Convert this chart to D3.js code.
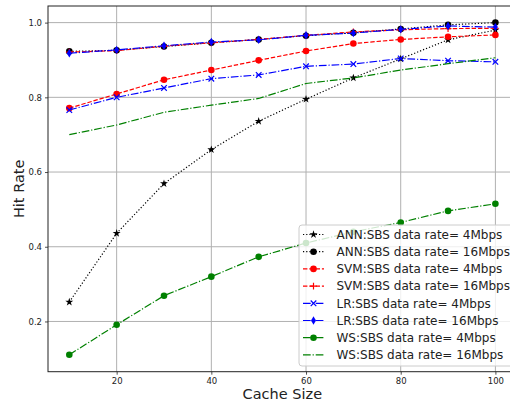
<!DOCTYPE html>
<html>
<head>
<meta charset="utf-8">
<script src="https://cdn.jsdelivr.net/npm/d3@7"></script>
<style>
  body { margin: 0; background: #fff; }
  svg { display: block; font-family: "DejaVu Sans", sans-serif; }
</style>
</head>
<body>
<div id="chart"></div>
<script>
// data
const cacheSizes = [10, 20, 30, 40, 50, 60, 70, 80, 90, 100];
const ann4 = [0.252, 0.436, 0.569, 0.660, 0.736, 0.795, 0.852, 0.903, 0.954, 0.980];
const ann16 = [0.923, 0.926, 0.936, 0.946, 0.955, 0.965, 0.973, 0.983, 0.994, 1.000];
const svm4 = [0.771, 0.809, 0.847, 0.873, 0.899, 0.924, 0.944, 0.955, 0.962, 0.967];
const svm16 = [0.921, 0.925, 0.937, 0.946, 0.955, 0.966, 0.975, 0.981, 0.984, 0.985];
const lr4 = [0.766, 0.800, 0.825, 0.850, 0.860, 0.883, 0.889, 0.904, 0.898, 0.895];
const lr16 = [0.918, 0.927, 0.938, 0.948, 0.954, 0.966, 0.972, 0.982, 0.991, 0.988];
const ws4 = [0.111, 0.191, 0.269, 0.320, 0.373, 0.410, 0.440, 0.465, 0.496, 0.515];
const ws16 = [0.700, 0.726, 0.760, 0.779, 0.797, 0.837, 0.852, 0.873, 0.890, 0.906];
const xTicks = [20, 40, 60, 80, 100];
const yTicks = [0.2, 0.4, 0.6, 0.8, 1.0];

const series = [
    {name: 'ANN:SBS data rate= 4Mbps', values: ann4, color: '#000', dash: '1.2,2', marker: 'star'},
    {name: 'ANN:SBS data rate= 16Mbps', values: ann16, color: '#000', dash: '1.2,2', marker: 'circle'},
    {name: 'SVM:SBS data rate= 4Mbps', values: svm4, color: '#ff0000', dash: '4.4,1.9', marker: 'circle'},
    {name: 'SVM:SBS data rate= 16Mbps', values: svm16, color: '#ff0000', dash: '4.4,1.9', marker: 'plus'},
    {name: 'LR:SBS data rate= 4Mbps', values: lr4, color: '#0000ff', dash: '7.7,1.9,1.2,1.9', marker: 'x'},
    {name: 'LR:SBS data rate= 16Mbps', values: lr16, color: '#0000ff', dash: '7.7,1.9,1.2,1.9', marker: 'thin_diamond'},
    {name: 'WS:SBS data rate= 4Mbps', values: ws4, color: '#008000', dash: '7.7,1.9,1.2,1.9', marker: 'circle'},
    {name: 'WS:SBS data rate= 16Mbps', values: ws16, color: '#008000', dash: '7.7,1.9,1.2,1.9', marker: null},
];

const width = 510, height = 407;
const plot = {left: 48, top: 6, right: 516.7, bottom: 371.7};

const svg = d3.select('#chart').append('svg')
    .attr('width', width)
    .attr('height', height);

const x = d3.scaleLinear().domain([5.5, 104.5]).range([plot.left, plot.right]);
const y = d3.scaleLinear().domain([0.0655, 1.0445]).range([plot.bottom, plot.top]);

// grid
svg.append('g').selectAll('line').data(xTicks).join('line')
    .attr('x1', (d) => x(d)).attr('x2', (d) => x(d))
    .attr('y1', plot.top).attr('y2', plot.bottom)
    .attr('stroke', '#b0b0b0').attr('stroke-width', 1);
svg.append('g').selectAll('line').data(yTicks).join('line')
    .attr('x1', plot.left).attr('x2', plot.right)
    .attr('y1', (d) => y(d)).attr('y2', (d) => y(d))
    .attr('stroke', '#b0b0b0').attr('stroke-width', 1);

// axes
const xAxis = d3.axisBottom(x).tickValues(xTicks).tickFormat(d3.format('d')).tickSizeOuter(0).tickSize(3).tickPadding(3);
const yAxis = d3.axisLeft(y).tickValues(yTicks).tickFormat(d3.format('.1f')).tickSizeOuter(0).tickSize(3).tickPadding(3);

const gx = svg.append('g').attr('transform', `translate(0,${plot.bottom})`).call(xAxis);
const gy = svg.append('g').attr('transform', `translate(${plot.left},0)`).call(yAxis);
[gx, gy].forEach((g) => {
    g.select('.domain').remove();
    g.selectAll('text').attr('font-size', 8.5).attr('fill', '#222').attr('font-family', '"DejaVu Sans", sans-serif');
    g.selectAll('line').attr('stroke', '#222').attr('stroke-width', 0.8);
});

// frame
svg.append('rect')
    .attr('x', plot.left).attr('y', plot.top)
    .attr('width', plot.right - plot.left).attr('height', plot.bottom - plot.top)
    .attr('fill', 'none').attr('stroke', '#222').attr('stroke-width', 1);

const line = d3.line()
    .x((d, i) => x(cacheSizes[i]))
    .y((d) => y(d));

function drawMarker(g, type, cx, cy, color) {
    if (type === 'circle') {
        g.append('circle').attr('cx', cx).attr('cy', cy).attr('r', 3.3).attr('fill', color);
    } else if (type === 'star') {
        g.append('path').attr('transform', `translate(${cx},${cy})`)
            .attr('d', d3.symbol(d3.symbolStar, 20)()).attr('fill', color);
    } else if (type === 'plus') {
        g.append('path').attr('transform', `translate(${cx},${cy})`)
            .attr('d', 'M-3.4,0H3.4M0,-3.4V3.4').attr('stroke', color).attr('stroke-width', 1.2);
    } else if (type === 'x') {
        g.append('path').attr('transform', `translate(${cx},${cy})`)
            .attr('d', 'M-2.8,-2.8L2.8,2.8M-2.8,2.8L2.8,-2.8').attr('stroke', color).attr('stroke-width', 1.2);
    } else if (type === 'thin_diamond') {
        g.append('path').attr('transform', `translate(${cx},${cy})`)
            .attr('d', 'M0,-4.2L2.5,0L0,4.2L-2.5,0Z').attr('fill', color);
    }
}

const plotG = svg.append('g');

series.forEach((s) => {
    const g = plotG.append('g');
    g.append('path')
        .attr('d', line(s.values))
        .attr('fill', 'none')
        .attr('stroke', s.color)
        .attr('stroke-width', 1.2)
        .attr('stroke-dasharray', s.dash);
    if (s.marker) {
        s.values.forEach((v, i) => drawMarker(g, s.marker, x(cacheSizes[i]), y(v), s.color));
    }
});

// legend
const leg = svg.append('g').attr('transform', 'translate(299,225)');
leg.append('rect')
    .attr('x', 0).attr('y', 0).attr('width', 230).attr('height', 141)
    .attr('rx', 3)
    .attr('fill', 'rgba(255,255,255,0.8)')
    .attr('stroke', '#cccccc').attr('stroke-width', 1);
series.forEach((s, i) => {
    const cy = 9.5 + i * 17.2;
    const row = leg.append('g');
    row.append('line')
        .attr('x1', 4).attr('x2', 25).attr('y1', cy).attr('y2', cy)
        .attr('stroke', s.color).attr('stroke-width', 1.2)
        .attr('stroke-dasharray', s.dash);
    if (s.marker) drawMarker(row, s.marker, 14.5, cy, s.color);
    row.append('text')
        .attr('x', 37.5).attr('y', cy).attr('dy', '0.35em')
        .attr('font-size', 12).attr('fill', '#222')
        .text(s.name);
});

// axis titles
svg.append('text')
    .attr('x', x(55)).attr('y', 399)
    .attr('text-anchor', 'middle').attr('font-size', 14.5).attr('fill', '#222')
    .text('Cache Size');
svg.append('text')
    .attr('transform', `translate(24,${(plot.top + plot.bottom) / 2}) rotate(-90)`)
    .attr('text-anchor', 'middle').attr('font-size', 14.5).attr('fill', '#222')
    .text('Hit Rate');
</script>
</body>
</html>
